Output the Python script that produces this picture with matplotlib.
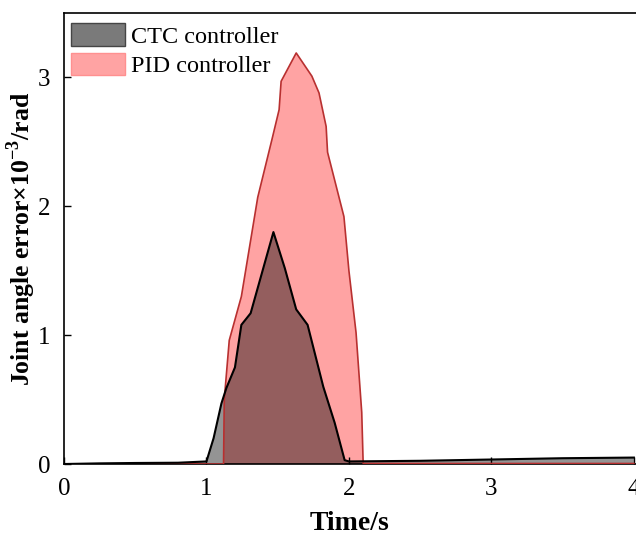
import numpy as np
import matplotlib.pyplot as plt
from matplotlib.patches import Patch

plt.rcParams['font.family'] = ['Liberation Serif', 'DejaVu Serif']
plt.rcParams['mathtext.fontset'] = 'custom'
plt.rcParams['mathtext.rm'] = 'Liberation Serif'
plt.rcParams['mathtext.bf'] = 'Liberation Serif:bold'

# CTC controller error (x10^-3 rad)
t_ctc = [0, 0.25, 0.5, 0.8, 1.0, 1.05, 1.105, 1.14, 1.2, 1.245, 1.31, 1.47,
         1.55, 1.63, 1.71, 1.82, 1.90, 1.97, 2.0, 2.5, 3.0, 3.5, 4.0]
e_ctc = [0, 0.005, 0.008, 0.01, 0.02, 0.2, 0.47, 0.59, 0.75, 1.08, 1.17, 1.80,
         1.52, 1.20, 1.08, 0.6, 0.32, 0.03, 0.02, 0.025, 0.035, 0.045, 0.05]

# PID controller error (x10^-3 rad)
t_pid = [0, 1.0, 1.12, 1.125, 1.16, 1.245, 1.36, 1.46, 1.51, 1.524, 1.63,
         1.74, 1.79, 1.84, 1.85, 1.965, 2.0, 2.05, 2.09, 2.10, 2.5, 3.0, 4.0]
e_pid = [0, 0, 0, 0.5, 0.96, 1.3, 2.07, 2.52, 2.75, 2.97, 3.19,
         3.01, 2.88, 2.62, 2.42, 1.92, 1.5, 1.02, 0.4, 0.005, 0.004, 0.004, 0.004]

fig = plt.figure(figsize=(6.36, 5.36), dpi=100)
ax = fig.add_axes([0.1006, 0.1343, 0.8994, 0.8414])

ax.fill_between(t_pid, e_pid, 0, facecolor='#ffa3a3', edgecolor='none', zorder=1)
ax.fill_between(t_ctc, e_ctc, 0, facecolor='black', alpha=0.42, edgecolor='none', zorder=2)
ax.plot(t_pid, e_pid, color='#b83030', lw=1.2, zorder=3)
ax.plot(t_ctc, e_ctc, color='black', lw=1.5, zorder=4)

ax.set_xlim(0, 4.015)
ax.set_ylim(0, 3.5)
ax.set_xticks([0, 1, 2, 3, 4])
ax.set_yticks([0, 1, 2, 3])
ax.tick_params(direction='in', length=5, width=1, labelsize=18)
ax.tick_params(axis='x', pad=10)
ax.tick_params(axis='y', pad=10)
ax.spines['right'].set_visible(False)
for s in ['left', 'bottom', 'top']:
    ax.spines[s].set_linewidth(1.2)

ax.set_xlabel('Time/s', fontsize=20, fontweight='bold', labelpad=8)
ax.set_ylabel(r'Joint angle error×10$^{\mathbf{-3}}$/rad', fontsize=18.5,
              fontweight='bold', labelpad=0)

handles = [Patch(facecolor='#7a7a7a', edgecolor='#454545', label='CTC controller'),
           Patch(facecolor='#ffa3a3', edgecolor='#ff9090', label='PID controller')]
ax.legend(handles=handles, loc='upper left', frameon=False, fontsize=17.5,
          handlelength=2.2, handleheight=1.05, labelspacing=0.2,
          handletextpad=0.25, borderaxespad=0.1, borderpad=0.2,
          bbox_to_anchor=(0.0, 0.993))

fig.savefig('out.png', dpi=100)
